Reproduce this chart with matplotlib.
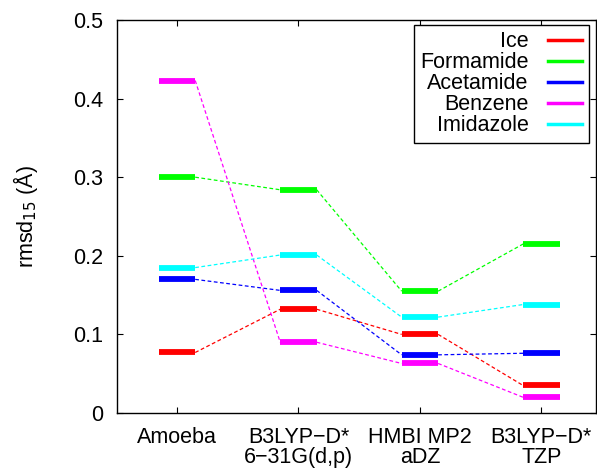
import numpy as np
import matplotlib.pyplot as plt
from matplotlib.lines import Line2D

plt.rcParams['font.family'] = ['Liberation Sans', 'DejaVu Sans']
plt.rcParams['font.size'] = 15.5

methods = ['Amoeba', 'B3LYP\u2212D*\n6\u221231G(d,p)', 'HMBI MP2\naDZ', 'B3LYP\u2212D*\nTZP']
systems = ['Ice', 'Formamide', 'Acetamide', 'Benzene', 'Imidazole']
colors = ['#ff0000', '#00ff00', '#0000ff', '#ff00ff', '#00ffff']

ice = [0.077, 0.132, 0.100, 0.035]
formamide = [0.300, 0.284, 0.155, 0.215]
acetamide = [0.170, 0.156, 0.074, 0.076]
benzene = [0.423, 0.090, 0.063, 0.020]
imidazole = [0.185, 0.201, 0.122, 0.138]
rmsd = [ice, formamide, acetamide, benzene, imidazole]

x = np.arange(1, len(methods) + 1)
hw = 0.15  # half width of each level bar

fig = plt.figure(figsize=(5.97, 4.69), dpi=100)
ax = fig.add_axes([117 / 597, 56 / 469, 479 / 597, 393 / 469])

for vals, c in zip(rmsd, colors):
    vals = np.array(vals)
    # dashed connectors between neighbouring levels
    for i in range(len(x) - 1):
        ax.plot([x[i] + hw, x[i + 1] - hw], [vals[i], vals[i + 1]],
                color=c, lw=0.9, ls=(0, (3, 2)), zorder=2)
    ax.hlines(vals, x - hw, x + hw, color=c, lw=4.2, zorder=3)

ax.set_xlim(0.506, 4.45)
ax.set_ylim(0, 0.5)
ax.set_xticks(x)
ax.set_xticklabels(methods, linespacing=0.95)
ax.set_yticks([0, 0.1, 0.2, 0.3, 0.4, 0.5])
ax.set_yticklabels(['0', '0.1', '0.2', '0.3', '0.4', '0.5'])
ax.tick_params(direction='in', length=4, width=0.8, top=True, right=True)
ax.tick_params(axis='y', pad=10)
ax.tick_params(axis='x', pad=10)
for s in ax.spines.values():
    s.set_linewidth(1.0)

ax.set_ylabel('rmsd$_{15}$ (\u00c5)', labelpad=24)

handles = [Line2D([], [], color=c, lw=2.5) for c in colors]
leg = ax.legend(handles, systems, loc='upper right', bbox_to_anchor=(0.985, 0.988),
                markerfirst=False, frameon=True, fancybox=False, framealpha=1,
                edgecolor='black', handlelength=1.6, handletextpad=0.9,
                labelspacing=0.0, borderpad=0.3, borderaxespad=0)
leg.get_frame().set_linewidth(1.0)

fig.savefig('out.png', dpi=100)
